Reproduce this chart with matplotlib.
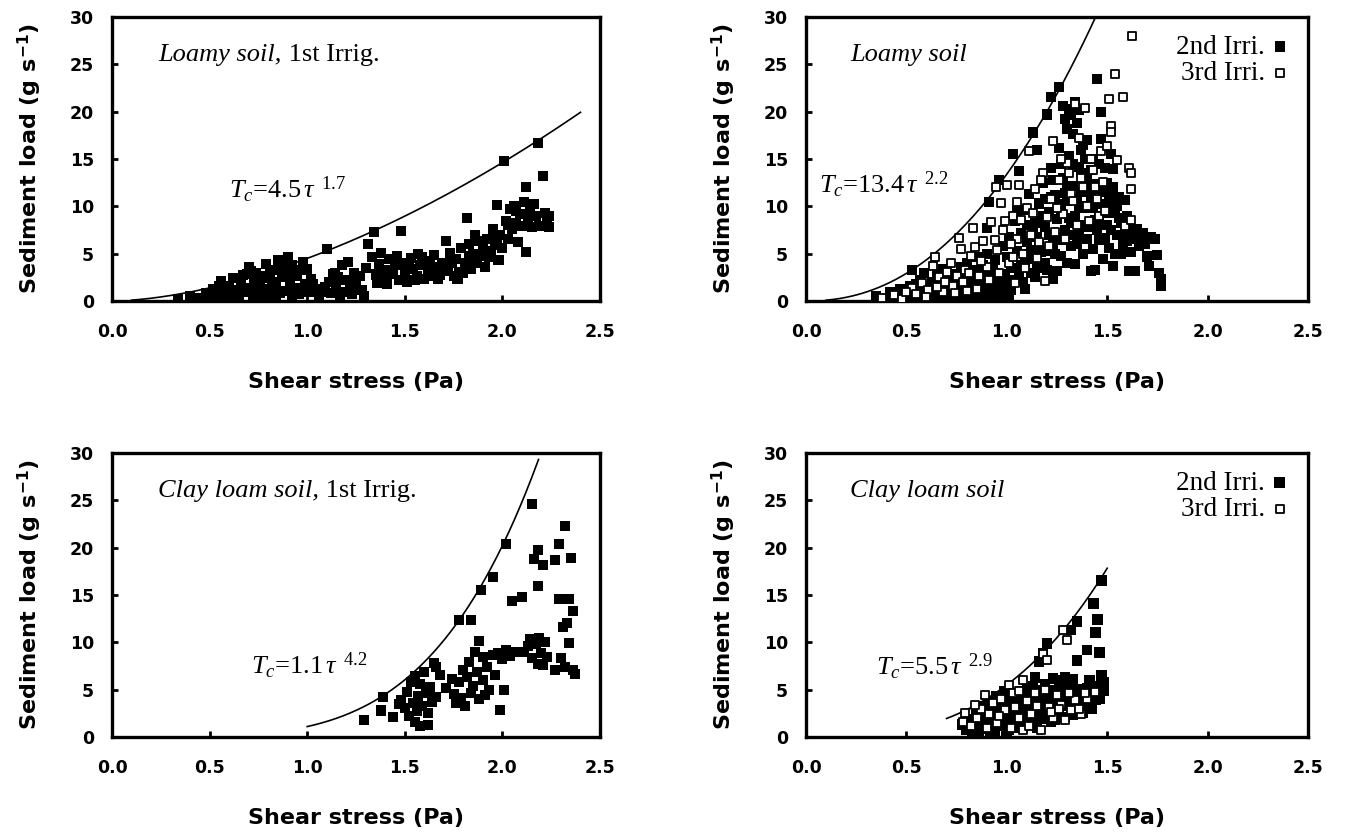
import numpy as np
import matplotlib
matplotlib.use("Agg")
import matplotlib.pyplot as plt

plt.rcParams['mathtext.fontset'] = 'custom'
plt.rcParams['mathtext.rm'] = 'Liberation Serif'
plt.rcParams['mathtext.it'] = 'Liberation Serif:italic'
plt.rcParams['mathtext.bf'] = 'DejaVu Sans:bold'

# ---------------- data ----------------
# Top-left: Loamy soil, 1st irrigation
tl_pts = [
(0.34,0.2),(0.40,0.5),(0.45,0.3),(0.48,0.8),(0.50,0.4),(0.52,1.3),(0.54,0.6),(0.56,2.1),(0.57,1.0),(0.58,0.3),
(0.60,1.6),(0.61,0.7),(0.62,2.4),(0.64,1.2),(0.65,0.4),(0.66,1.8),(0.68,0.9),(0.69,2.9),(0.70,3.6),(0.71,1.4),
(0.72,0.5),(0.73,2.2),(0.74,3.0),(0.75,1.0),(0.76,1.9),(0.77,0.3),(0.78,2.6),(0.79,3.9),(0.80,1.3),(0.81,0.6),
(0.82,2.0),(0.83,3.3),(0.84,1.6),(0.85,4.3),(0.86,0.8),(0.87,2.5),(0.88,3.7),(0.89,1.1),(0.90,4.6),(0.91,2.0),
(0.92,0.4),(0.93,3.1),(0.94,1.4),(0.95,2.6),(0.96,0.7),(0.98,4.1),(0.99,1.8),(1.00,3.4),(1.01,0.9),(1.02,2.3),
(1.04,1.3),(1.06,0.4),(1.08,1.0),(1.10,5.5),(1.11,2.0),(1.12,0.8),(1.14,3.0),(1.15,1.5),(1.16,2.5),(1.18,3.8),
(1.19,1.0),(1.20,2.2),(1.21,4.1),(1.22,1.5),(1.23,0.7),(1.24,3.0),(1.26,1.2),(1.27,2.6),(1.30,3.5),(1.31,6.0),
(1.33,4.6),(1.34,7.3),(1.35,2.8),(1.36,1.9),(1.37,3.9),(1.38,5.1),(1.39,2.4),(1.40,3.3),(1.41,1.8),(1.42,4.4),
(1.44,2.9),(1.45,3.8),(1.47,2.2),(1.48,7.4),(1.49,4.0),(1.50,3.0),(1.51,2.0),(1.53,4.5),(1.54,3.4),(1.56,2.6),
(1.57,5.0),(1.58,3.8),(1.60,2.3),(1.61,4.2),(1.62,3.1),(1.64,2.6),(1.65,4.9),(1.66,3.6),(1.68,2.8),(1.69,4.0),
(1.71,6.3),(1.72,3.2),(1.73,5.1),(1.75,2.6),(1.76,4.4),(1.78,3.1),(1.79,5.6),(1.81,4.0),(1.82,8.8),(1.83,6.0),
(1.84,3.4),(1.85,5.0),(1.86,7.0),(1.87,4.3),(1.88,6.3),(1.90,5.5),(1.91,3.6),(1.92,6.6),(1.93,4.7),(1.95,7.6),
(1.96,5.9),(1.97,10.1),(1.98,4.3),(1.99,7.0),(2.01,14.8),(2.02,8.5),(2.03,6.6),(2.04,9.7),(2.05,7.6),(2.06,10.0),
(2.07,8.2),(2.08,6.2),(2.09,9.2),(2.10,7.9),(2.11,10.5),(2.12,12.0),(2.12,5.2),(2.13,8.6),(2.14,9.6),(2.15,7.8),
(2.16,10.2),(2.17,9.0),(2.18,16.7),(2.19,7.9),(2.21,13.2),(2.22,9.3),(2.23,8.4),(2.24,9.0),(2.24,7.8),
(0.55,1.6),(0.59,0.9),(0.63,0.2),(0.67,2.7),(0.71,3.2),(0.74,1.6),(0.77,2.4),(0.81,3.1),(0.84,0.3),(0.86,3.6),
(0.89,2.8),(0.92,3.8),(0.95,1.1),(0.97,3.3),(1.03,1.8),(1.09,1.5),(1.13,2.8),(1.17,0.6),(1.25,2.0),(1.28,1.2),
(1.29,0.5),(1.43,3.0),(1.46,4.8),(1.52,3.6),(1.55,2.2),(1.59,4.6),(1.63,4.0),(1.67,2.3),(1.70,3.3),(1.74,4.0),
(1.77,2.3),(1.80,3.0),(1.83,4.7),(1.86,4.0),(1.89,4.8),(1.94,5.3),(1.97,6.5),(2.00,5.6),(2.03,8.0),(2.07,9.5)]

# Top-right: Loamy soil, 2nd (filled) and 3rd (open) irrigation
tr2_pts = [
(0.35,0.5),(0.40,0.2),(0.42,0.9),(0.45,0.4),(0.47,1.3),(0.49,0.2),(0.50,0.8),(0.52,1.6),(0.53,3.3),(0.54,0.4),
(0.56,1.1),(0.57,2.2),(0.58,0.6),(0.59,3.0),(0.60,1.5),(0.62,0.3),(0.63,2.0),(0.64,1.0),(0.65,2.7),(0.66,0.5),
(0.67,1.6),(0.68,3.4),(0.70,0.9),(0.71,2.3),(0.72,1.3),(0.73,0.4),(0.74,2.9),(0.75,1.8),(0.76,0.8),(0.77,3.6),
(0.78,2.2),(0.79,1.2),(0.80,4.0),(0.81,0.5),(0.82,2.7),(0.83,1.6),(0.84,3.3),(0.85,4.6),(0.86,0.9),(0.87,2.1),
(0.88,3.8),(0.89,1.4),(0.90,7.7),(0.90,5.0),(0.91,10.5),(0.92,2.6),(0.93,1.0),(0.94,4.3),(0.95,3.0),(0.96,12.8),
(0.96,0.6),(0.97,1.8),(0.98,5.8),(0.99,2.4),(1.00,4.6),(1.01,6.8),(1.02,3.5),(1.03,15.5),(1.04,8.5),(1.05,5.3),
(1.06,13.7),(1.06,2.7),(1.07,7.2),(1.08,9.6),(1.09,4.2),(1.10,6.2),(1.11,11.3),(1.12,3.0),(1.13,17.8),(1.13,4.4),
(1.14,8.2),(1.15,16.0),(1.15,6.8),(1.16,10.3),(1.17,5.2),(1.18,12.5),(1.19,7.8),(1.20,19.7),(1.20,3.3),(1.21,9.4),
(1.22,21.5),(1.22,14.0),(1.23,6.0),(1.23,2.3),(1.24,11.2),(1.25,8.7),(1.26,22.6),(1.26,16.2),(1.27,4.8),(1.28,13.0),
(1.29,19.2),(1.29,7.5),(1.30,10.6),(1.31,20.3),(1.31,15.3),(1.32,5.8),(1.33,12.1),(1.33,17.6),(1.34,3.9),(1.34,9.0),
(1.35,18.8),(1.36,14.2),(1.36,7.0),(1.37,11.5),(1.38,16.5),(1.38,5.0),(1.39,9.8),(1.40,13.3),(1.40,17.0),(1.41,7.8),
(1.42,11.0),(1.42,3.2),(1.43,15.0),(1.44,8.6),(1.44,3.3),(1.45,23.4),(1.45,12.4),(1.46,6.4),(1.47,20.0),(1.47,17.1),
(1.47,10.2),(1.48,4.4),(1.49,14.0),(1.50,8.0),(1.51,11.3),(1.51,5.6),(1.52,15.5),(1.53,13.9),(1.53,3.7),(1.54,9.3),
(1.55,7.0),(1.56,11.0),(1.57,5.0),(1.58,8.4),(1.59,10.7),(1.60,6.3),(1.61,3.2),(1.62,7.6),(1.64,3.2),(1.65,7.6),
(1.66,5.8),(1.68,7.2),(1.70,4.7),(1.71,3.7),(1.72,6.8),(1.74,6.5),(1.75,4.9),(1.76,3.0),(1.77,2.3),(1.77,1.6),
(0.43,0.1),(0.46,0.7),(0.51,0.1),(0.55,1.8),(0.57,0.2),(0.61,1.2),(0.63,0.7),(0.66,1.9),(0.69,0.3),(0.69,2.5),
(0.72,1.0),(0.74,0.2),(0.76,1.5),(0.78,0.6),(0.80,2.6),(0.82,1.1),(0.84,0.3),(0.86,2.4),(0.88,0.6),(0.90,1.7),
(0.92,0.4),(0.94,2.0),(0.97,0.9),(0.99,0.3),(1.02,1.2),(1.05,9.5),(1.08,2.0),(1.10,8.0),(1.12,5.4),(1.14,2.5),
(1.16,6.0),(1.18,9.0),(1.19,4.0),(1.21,7.0),(1.22,11.0),(1.24,5.0),(1.25,3.2),(1.27,9.5),(1.28,6.4),(1.30,12.0),
(1.30,4.0),(1.32,8.2),(1.33,14.5),(1.35,6.0),(1.36,10.0),(1.37,13.5),(1.38,8.0),(1.39,15.0),(1.40,6.5),(1.41,12.3),
(1.43,9.8),(1.43,5.5),(1.45,7.5),(1.46,14.5),(1.48,11.5),(1.49,6.7),(1.50,9.3),(1.52,7.5),(1.53,12.0),(1.55,10.0),
(1.57,8.2),(1.58,6.0),(1.60,9.0),(1.63,6.5),(1.67,7.0),(1.69,6.0),(1.30,18.2),(1.32,19.6),(1.34,21.0),(1.36,20.2),
(1.28,20.6),
(0.44,0.3),(0.48,0.6),(0.53,0.9),(0.58,1.3),(0.60,0.2),(0.64,1.5),(0.67,0.8),(0.70,1.8),(0.73,2.6),(0.75,0.5),
(0.79,2.9),(0.81,1.9),(0.83,0.8),(0.85,1.8),(0.87,3.0),(0.89,0.5),(0.91,1.2),(0.93,3.4),(0.95,1.6),(0.98,2.8),
(1.00,1.5),(1.01,0.5),(1.04,2.2),(1.07,3.8),(1.09,1.3),(1.11,5.0),(1.13,7.5),(1.15,3.5),(1.17,8.5),(1.19,10.8),
(1.21,5.3),(1.23,12.8),(1.25,6.8),(1.26,10.2),(1.27,14.5),(1.29,11.4),(1.31,8.8),(1.33,7.0),(1.35,10.8),(1.37,16.0),
(1.39,12.0),(1.41,10.0),(1.42,13.8),(1.44,11.8),(1.46,9.0),(1.48,8.0),(1.50,12.5),(1.52,10.2),(1.54,5.0),(1.56,8.8),
(1.59,7.4),(1.62,5.2),(1.66,6.5)]

tr3_pts = [
(0.38,0.3),(0.44,0.6),(0.48,0.2),(0.53,1.4),(0.55,0.7),(0.58,1.9),(0.61,1.2),(0.63,3.7),(0.64,4.6),(0.66,2.5),
(0.68,1.0),(0.70,3.1),(0.72,4.0),(0.73,1.6),(0.75,2.6),(0.76,6.7),(0.77,5.5),(0.79,3.3),(0.80,1.1),(0.82,4.8),
(0.83,7.7),(0.84,5.7),(0.86,2.6),(0.88,6.3),(0.90,3.6),(0.92,8.3),(0.945,12.0),(0.95,5.4),(0.97,10.4),(0.98,7.5),
(1.00,12.3),(1.01,4.0),(1.03,4.6),(1.03,9.0),(1.04,1.9),(1.05,6.5),(1.06,12.3),(1.07,8.6),(1.08,5.0),(1.10,9.8),
(1.11,15.8),(1.12,7.0),(1.14,11.8),(1.16,6.2),(1.18,13.5),(1.19,2.1),(1.20,8.9),(1.22,10.8),(1.23,16.9),(1.24,7.3),
(1.26,12.8),(1.28,9.2),(1.30,14.6),(1.32,11.3),(1.34,20.8),(1.35,8.0),(1.37,13.0),(1.39,20.4),(1.40,10.0),(1.42,15.0),
(1.44,12.0),(1.46,9.0),(1.47,15.8),(1.50,16.4),(1.51,21.3),(1.52,18.5),(1.52,17.8),(1.54,24.0),(1.55,14.9),(1.58,21.5),
(1.59,7.9),(1.61,14.1),(1.62,13.5),(1.62,11.8),(1.62,8.6),(1.625,28.0),
(0.50,0.9),(0.60,0.4),(0.65,1.5),(0.69,2.0),(0.74,0.8),(0.78,2.0),(0.81,3.0),(0.85,1.3),(0.87,4.2),(0.91,2.2),
(0.94,6.4),(0.96,3.0),(0.99,8.5),(1.02,6.0),(1.05,10.5),(1.09,3.5),(1.13,9.3),(1.15,4.5),(1.17,12.8),(1.21,5.8),
(1.25,9.8),(1.27,15.0),(1.29,6.5),(1.31,13.5),(1.33,10.6),(1.36,17.2),(1.38,12.0),(1.41,8.5),(1.43,13.8),(1.45,10.8),
(1.48,12.6),(1.49,9.5)]

# Bottom-left: Clay loam soil, 1st irrigation
bl_pts = [
(1.29,1.8),(1.38,2.8),(1.39,4.2),(1.44,2.1),(1.47,3.5),(1.48,3.9),(1.50,3.1),(1.51,4.8),(1.52,2.2),(1.53,5.8),
(1.54,3.6),(1.55,1.6),(1.55,6.4),(1.56,2.7),(1.57,4.3),(1.58,1.2),(1.58,5.6),(1.59,3.3),(1.60,6.9),(1.61,4.6),
(1.62,2.5),(1.62,1.3),(1.63,5.3),(1.64,3.7),(1.65,7.8),(1.66,4.2),(1.66,7.4),(1.68,6.5),(1.71,5.2),(1.74,6.1),
(1.75,4.5),(1.76,3.6),(1.78,12.4),(1.78,5.8),(1.79,4.1),(1.80,7.1),(1.81,3.3),(1.82,6.3),(1.83,7.9),(1.84,12.4),
(1.84,4.6),(1.85,5.4),(1.86,9.0),(1.87,6.9),(1.88,10.1),(1.88,4.0),(1.89,15.5),(1.90,8.5),(1.90,6.0),(1.91,4.4),
(1.92,7.4),(1.93,5.0),(1.95,16.9),(1.95,8.7),(1.96,6.6),(1.98,8.9),(1.99,2.9),(2.00,8.2),(2.01,5.0),(2.02,20.4),
(2.02,9.2),(2.04,8.6),(2.05,14.4),(2.07,9.0),(2.10,14.8),(2.11,9.0),(2.13,9.6),(2.14,10.3),(2.15,24.6),(2.15,8.3),
(2.16,18.8),(2.17,9.8),(2.18,19.8),(2.18,16.0),(2.18,7.7),(2.19,10.5),(2.20,8.9),(2.21,18.2),(2.21,7.6),(2.22,10.0),
(2.23,8.5),(2.27,18.7),(2.27,7.1),(2.29,20.4),(2.29,14.6),(2.30,8.3),(2.31,11.6),(2.32,22.3),(2.32,7.4),(2.33,12.0),
(2.34,14.6),(2.34,9.9),(2.35,18.9),(2.36,13.3),(2.36,7.1),(2.37,6.7)]

# Bottom-right: Clay loam soil, 2nd (filled) and 3rd (open) irrigation
br2_pts = [
(0.78,1.3),(0.80,0.8),(0.82,1.9),(0.84,1.0),(0.85,2.6),(0.86,0.5),(0.87,1.6),(0.88,3.2),(0.89,2.2),(0.90,0.9),
(0.91,3.8),(0.92,1.5),(0.93,2.8),(0.94,0.6),(0.95,4.3),(0.96,2.1),(0.97,1.2),(0.98,3.4),(0.99,4.8),(1.00,2.6),
(1.01,0.8),(1.02,1.7),(1.03,3.9),(1.04,2.9),(1.05,1.2),(1.06,4.4),(1.07,2.3),(1.08,3.3),(1.09,1.6),(1.10,5.0),
(1.11,2.7),(1.12,3.7),(1.13,1.4),(1.14,6.3),(1.15,2.2),(1.16,8.0),(1.16,4.2),(1.17,3.0),(1.18,8.8),(1.18,1.9),
(1.19,5.6),(1.20,9.9),(1.20,3.5),(1.21,2.5),(1.22,4.6),(1.23,3.0),(1.24,1.8),(1.25,3.9),(1.26,6.0),(1.26,2.6),
(1.27,4.4),(1.28,3.3),(1.29,2.1),(1.30,5.0),(1.31,3.7),(1.32,11.3),(1.32,2.6),(1.33,6.1),(1.33,4.2),(1.34,3.1),
(1.35,12.2),(1.35,8.1),(1.35,4.9),(1.36,2.8),(1.37,3.6),(1.38,4.4),(1.39,3.0),(1.40,9.2),(1.40,5.1),(1.41,6.0),
(1.41,3.5),(1.42,3.0),(1.42,4.6),(1.43,14.1),(1.44,11.0),(1.44,3.9),(1.45,12.4),(1.45,5.3),(1.46,8.9),(1.46,4.1),
(1.47,16.5),(1.47,6.5),(1.48,4.9),(1.48,5.8),
(0.80,1.9),(0.83,0.4),(0.86,1.2),(0.88,2.3),(0.90,3.0),(0.92,0.5),(0.94,2.3),(0.96,3.6),(0.98,1.6),(1.00,0.5),
(1.00,4.0),(1.02,2.8),(1.04,1.0),(1.05,3.5),(1.07,4.8),(1.08,1.1),(1.10,2.0),(1.12,4.6),(1.13,5.4),(1.15,1.0),
(1.16,3.0),(1.18,4.9),(1.19,2.8),(1.21,4.0),(1.22,1.6),(1.24,4.9),(1.25,2.4),(1.27,5.0),(1.28,2.0),(1.30,3.6),
(1.31,5.5),(1.33,2.4),(1.35,3.4),(1.37,5.0),(1.38,2.6),(1.40,3.6),(1.43,4.0),(1.45,4.4),(1.47,5.0),(1.29,6.3),
(1.23,6.2)]

br3_pts = [
(0.78,1.6),(0.79,2.5),(0.82,1.2),(0.85,2.0),(0.87,3.0),(0.89,4.4),(0.91,2.4),(0.93,3.6),(0.95,1.5),(0.97,4.0),
(0.99,2.8),(1.01,5.5),(1.02,1.0),(1.04,3.2),(1.06,2.0),(1.08,6.0),(1.08,0.7),(1.10,3.8),(1.12,2.4),(1.14,4.6),
(1.17,0.7),(1.18,8.8),(1.20,8.1),(1.21,3.2),(1.23,2.0),(1.25,4.4),(1.27,3.4),(1.28,11.3),(1.29,1.8),(1.30,10.2),
(1.32,2.8),(1.34,3.9),(1.37,2.4),(1.40,4.0),
(0.84,3.4),(0.90,1.0),(0.96,2.2),(1.03,4.6),(1.06,4.9),(1.11,1.2),(1.15,3.3),(1.19,5.0),(1.22,2.6),(1.26,3.0),
(1.31,4.6),(1.36,3.0),(1.39,4.7),(1.44,4.8)]

# Fitted curves Tc = a * tau^b, drawn over [start, end]
fit_a = [4.5, 13.4, 1.1, 5.5]
fit_b = [1.7, 2.2, 4.2, 2.9]
fit_range = [(0.1, 2.4), (0.1, 1.47), (1.0, 2.185), (0.7, 1.5)]
fit_labels = ["4.5", "13.4", "1.1", "5.5"]
fit_exps = ["1.7", "2.2", "4.2", "2.9"]

titles_it = ["Loamy soil,", "Loamy soil", "Clay loam soil,", "Clay loam soil"]
titles_rm = [" 1st Irrig.", "", " 1st Irrig.", ""]
legend_labels = ["2nd Irri.", "3rd Irri."]

x_ticks = [0.0, 0.5, 1.0, 1.5, 2.0, 2.5]
y_ticks = [0, 5, 10, 15, 20, 25, 30]

# ---------------- figure ----------------
W, H = 1354, 833
fig = plt.figure(figsize=(W/100, H/100), dpi=100)

def rect(l, r, t, b):
    return [l/W, 1 - b/H, (r-l)/W, (b-t)/H]

axes = [fig.add_axes(rect(112, 600, 17, 301)),
        fig.add_axes(rect(806, 1308, 17, 301)),
        fig.add_axes(rect(112, 600, 453, 737)),
        fig.add_axes(rect(806, 1308, 453, 737))]

tickfont = dict(family='DejaVu Sans', weight='bold', size=12.5)
labelfont = dict(family='DejaVu Sans', weight='bold', size=16)

title_x = [0.095, 0.088, 0.095, 0.088]
eq_pos = [(0.24, 0.39), (0.025, 0.41), (0.285, 0.25), (0.14, 0.245)]

FS = 52   # filled marker size
OS = 34   # open marker size

for i, ax in enumerate(axes):
    ax.set_xlim(0, 2.5)
    ax.set_ylim(0, 30)
    ax.set_xticks(x_ticks)
    ax.set_yticks(y_ticks)
    ax.set_xticklabels([f"{v:.1f}" for v in x_ticks], fontdict=tickfont)
    ax.set_yticklabels([str(v) for v in y_ticks], fontdict=tickfont)
    ax.tick_params(direction='in', length=4, width=2, pad=13, top=False, right=False)
    ax.tick_params(axis='x', pad=16)
    for s in ax.spines.values():
        s.set_linewidth(2.4)
    ax.set_xlabel("Shear stress (Pa)", fontdict=labelfont, labelpad=22)
    ax.set_ylabel("Sediment load (g s$^{\\mathbf{-1}}$)", fontdict=labelfont, labelpad=19)

    t0, t1 = fit_range[i]
    tau = np.linspace(t0, t1, 200)
    ax.plot(tau, fit_a[i] * tau ** fit_b[i], color='black', lw=1.2, zorder=2)

    tt = ax.text(title_x[i], 0.865, titles_it[i], transform=ax.transAxes, fontsize=19,
                 family='Liberation Serif', style='italic', va='center', ha='left')
    if titles_rm[i]:
        fig.canvas.draw()
        bb = tt.get_window_extent()
        x1 = ax.transAxes.inverted().transform((bb.x1, bb.y0))[0]
        ax.text(x1, 0.865, titles_rm[i], transform=ax.transAxes, fontsize=19,
                family='Liberation Serif', va='center', ha='left')
    ex, ey = eq_pos[i]
    ax.text(ex, ey, r"$T_c$=" + fit_labels[i] + r"$\,\tau^{\;\;" + fit_exps[i] + r"}$",
            transform=ax.transAxes, fontsize=19, family='Liberation Serif',
            va='center', ha='left')

def scat_filled(ax, pts, label=None, s=FS):
    x = [p[0] for p in pts]; y = [p[1] for p in pts]
    return ax.scatter(x, y, s=s, marker='s', c='black', edgecolors='none', zorder=3, label=label)

def scat_open(ax, pts, label=None, s=OS):
    x = [p[0] for p in pts]; y = [p[1] for p in pts]
    return ax.scatter(x, y, s=s, marker='s', facecolors='white', edgecolors='black',
                      linewidths=1.3, zorder=4, label=label)

scat_filled(axes[0], tl_pts)
scat_filled(axes[1], tr2_pts, legend_labels[0])
scat_open(axes[1], tr3_pts, legend_labels[1])
scat_filled(axes[2], bl_pts)
scat_filled(axes[3], br2_pts, legend_labels[0], s=60)
scat_open(axes[3], br3_pts, legend_labels[1])

for ax in (axes[1], axes[3]):
    ax.legend(loc='upper right', markerfirst=False, frameon=False,
              prop=dict(family='Liberation Serif', size=19.5),
              handletextpad=0.15, labelspacing=0.05, borderaxespad=0.25,
              handlelength=0.8, scatterpoints=1)

fig.savefig("out.png", dpi=100)
